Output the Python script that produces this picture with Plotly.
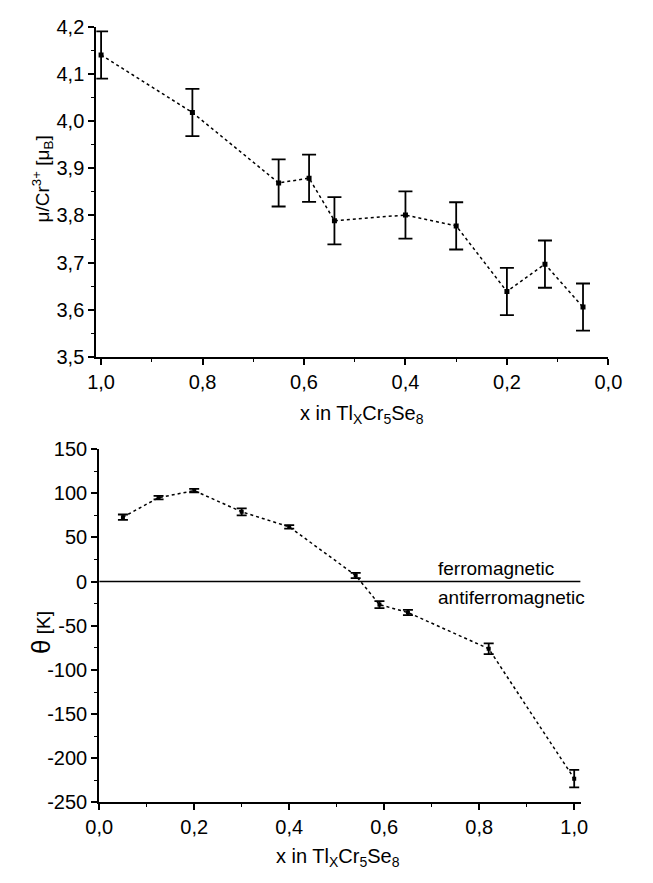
import plotly.graph_objects as go

W, H = 653, 883

# Top panel: magnetic moment per Cr3+
x_mu = [1.0, 0.82, 0.65, 0.59, 0.54, 0.40, 0.30, 0.20, 0.125, 0.05]
mu = [4.14, 4.018, 3.869, 3.879, 3.789, 3.801, 3.778, 3.639, 3.697, 3.606]
mu_err = [0.05, 0.05, 0.05, 0.05, 0.05, 0.05, 0.05, 0.05, 0.05, 0.05]

# Bottom panel: paramagnetic Curie temperature
x_th = [0.05, 0.125, 0.20, 0.30, 0.40, 0.54, 0.59, 0.65, 0.82, 1.0]
theta = [73, 95, 103, 79, 62, 7, -26, -35, -76, -223]
theta_err = [3, 2, 2, 4, 2, 3, 4, 3, 6, 10]

top_yticks = [3.5, 3.6, 3.7, 3.8, 3.9, 4.0, 4.1, 4.2]
top_ytext = ["3,5", "3,6", "3,7", "3,8", "3,9", "4,0", "4,1", "4,2"]
top_xticks = [1.0, 0.8, 0.6, 0.4, 0.2, 0.0]
top_xtext = ["1,0", "0,8", "0,6", "0,4", "0,2", "0,0"]
bot_yticks = [150, 100, 50, 0, -50, -100, -150, -200, -250]
bot_ytext = ["150", "100", "50", "0", "-50", "-100", "-150", "-200", "-250"]
bot_xticks = [0.0, 0.2, 0.4, 0.6, 0.8, 1.0]
bot_xtext = ["0,0", "0,2", "0,4", "0,6", "0,8", "1,0"]

FONT = "Liberation Sans, Arial, sans-serif"


def px_x(p):
    return p / W


def px_y(p):
    return 1 - p / H


fig = go.Figure()

fig.add_trace(go.Scatter(
    x=x_mu, y=mu, mode="lines+markers",
    line=dict(color="black", width=1.5, dash="dot"),
    marker=dict(symbol="square", size=5, color="black"),
    error_y=dict(type="data", array=mu_err, color="black", thickness=1.8, width=7),
    xaxis="x", yaxis="y", showlegend=False))

fig.add_trace(go.Scatter(
    x=x_th, y=theta, mode="lines+markers",
    line=dict(color="black", width=1.5, dash="dot"),
    marker=dict(symbol="square", size=4, color="black"),
    error_y=dict(type="data", array=theta_err, color="black", thickness=1.8, width=5),
    xaxis="x2", yaxis="y2", showlegend=False))

axis_common = dict(
    showline=True, linecolor="black", linewidth=2, ticks="outside",
    ticklen=6, tickwidth=1.5, tickcolor="black", showgrid=False, zeroline=False,
    tickfont=dict(family=FONT, size=20, color="black"), mirror=False,
)

fig.update_layout(
    width=W, height=H, margin=dict(l=0, r=0, t=0, b=0),
    paper_bgcolor="white", plot_bgcolor="white",
    font=dict(family=FONT, color="black"),
    xaxis=dict(domain=[px_x(86), px_x(621)], range=[1.0094, 0.0], anchor="y",
               tickvals=top_xticks, ticktext=top_xtext,
               minor=dict(dtick=0.1, ticks="outside", ticklen=3, tickwidth=1.2, tickcolor="black"),
               **axis_common),
    yaxis=dict(domain=[px_y(355), px_y(16)], range=[3.5, 4.2], anchor="x",
               tickvals=top_yticks, ticktext=top_ytext,
               minor=dict(dtick=0.05, ticks="outside", ticklen=3, tickwidth=1.2, tickcolor="black"),
               **axis_common),
    xaxis2=dict(domain=[px_x(89), px_x(592)], range=[0.0, 1.0135], anchor="y2",
                tickvals=bot_xticks, ticktext=bot_xtext,
                minor=dict(dtick=0.1, ticks="outside", ticklen=3, tickwidth=1.2, tickcolor="black"),
                **axis_common),
    yaxis2=dict(domain=[px_y(811.7), px_y(449.3)], range=[-250, 150], anchor="x2",
                tickvals=bot_yticks, ticktext=bot_ytext,
                minor=dict(dtick=25, ticks="outside", ticklen=3, tickwidth=1.2, tickcolor="black"),
                **axis_common),
)

# zero line separating ferro/antiferro regimes
fig.add_shape(type="line", xref="x2", yref="y2", x0=0, x1=1.0135, y0=0, y1=0,
              line=dict(color="black", width=1.5))

ann_font = dict(family=FONT, size=19, color="black")
fig.add_annotation(text="ferromagnetic", xref="paper", yref="paper",
                   x=px_x(441), y=px_y(572), xanchor="left", yanchor="middle",
                   showarrow=False, font=ann_font)
fig.add_annotation(text="antiferromagnetic", xref="paper", yref="paper",
                   x=px_x(441), y=px_y(601), xanchor="left", yanchor="middle",
                   showarrow=False, font=ann_font)

title_font = dict(family=FONT, size=20, color="black")
fig.add_annotation(text="x in Tl<sub>X</sub>Cr<sub>5</sub>Se<sub>8</sub>", xref="paper", yref="paper",
                   x=px_x(364), y=px_y(414), xanchor="center", yanchor="middle",
                   showarrow=False, font=title_font)
fig.add_annotation(text="x in Tl<sub>X</sub>Cr<sub>5</sub>Se<sub>8</sub>", xref="paper", yref="paper",
                   x=px_x(338), y=px_y(868), xanchor="center", yanchor="middle",
                   showarrow=False, font=title_font)
fig.add_annotation(text="μ/Cr<sup>3+</sup> [μ<sub>B</sub>]", xref="paper", yref="paper",
                   x=px_x(30), y=px_y(172), xanchor="center", yanchor="middle", textangle=-90,
                   showarrow=False, font=dict(family=FONT, size=19, color="black"))
fig.add_annotation(text="<span style='font-size:26px'>θ</span> [K]", xref="paper", yref="paper",
                   x=px_x(28), y=px_y(637), xanchor="center", yanchor="middle", textangle=-90,
                   showarrow=False, font=dict(family=FONT, size=19, color="black"))

fig.write_html("out.html")
